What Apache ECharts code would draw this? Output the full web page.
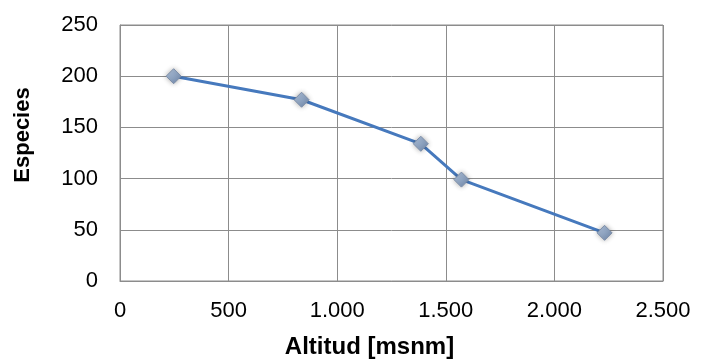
<!DOCTYPE html>
<html><head><meta charset="utf-8">
<script src="https://cdn.jsdelivr.net/npm/echarts@6/dist/echarts.min.js"></script>
<style>html,body{margin:0;padding:0;background:#fff}#c{width:707px;height:361px}</style>
</head><body><div id="c"></div>
<script>
var altitud = [247, 836, 1385, 1572, 2231];
var especies = [200, 177, 134, 99, 47];
var xTitle = 'Altitud [msnm]';
var yTitle = 'Especies';

function fmt(v){ return String(v).replace(/\B(?=(\d{3})+(?!\d))/g, '.'); }

var chart = echarts.init(document.getElementById('c'), null, {renderer:'canvas'});
chart.setOption({
  backgroundColor:'#fff',
  animation:false,
  grid:{left:120, right:44, top:25, bottom:80, show:true, borderColor:'#8c8c8c', borderWidth:1, outerBoundsMode:'none', containLabel:false},
  xAxis:{type:'value', min:0, max:2500, interval:500,
    name:xTitle, nameLocation:'middle', nameGap:54,
    nameTextStyle:{fontFamily:'Liberation Sans', fontWeight:'bold', fontSize:24, color:'#000', padding:[0,44,0,0]},
    axisLine:{show:true, lineStyle:{color:'#8c8c8c'}}, axisTick:{show:false},
    axisLabel:{formatter:fmt, fontFamily:'Liberation Sans', fontSize:22, color:'#000', margin:19},
    splitLine:{show:true, lineStyle:{color:'#8c8c8c', width:1}}},
  yAxis:{type:'value', min:0, max:250, interval:50,
    name:yTitle, nameLocation:'middle', nameGap:86, nameRotate:90,
    nameTextStyle:{fontFamily:'Liberation Sans', fontWeight:'bold', fontSize:22, color:'#000', padding:[0,0,0,36]},
    axisLine:{show:true, lineStyle:{color:'#8c8c8c'}}, axisTick:{show:false},
    axisLabel:{fontFamily:'Liberation Sans', fontSize:22, color:'#000', margin:22},
    splitLine:{show:true, lineStyle:{color:'#8c8c8c', width:1}}},
  series:[{type:'line', data:altitud.map(function(a,i){return [a, especies[i]];}),
    symbol:'diamond', symbolSize:15,
    lineStyle:{color:'#4679bd', width:3},
    itemStyle:{color:new echarts.graphic.LinearGradient(0,0,1,1,[{offset:0,color:'#b3c5dd'},{offset:1,color:'#6f88ab'}]), borderColor:'#7d8ea8', borderWidth:1, shadowColor:'rgba(0,0,0,0.3)', shadowBlur:5}
  }]
});
</script></body></html>
